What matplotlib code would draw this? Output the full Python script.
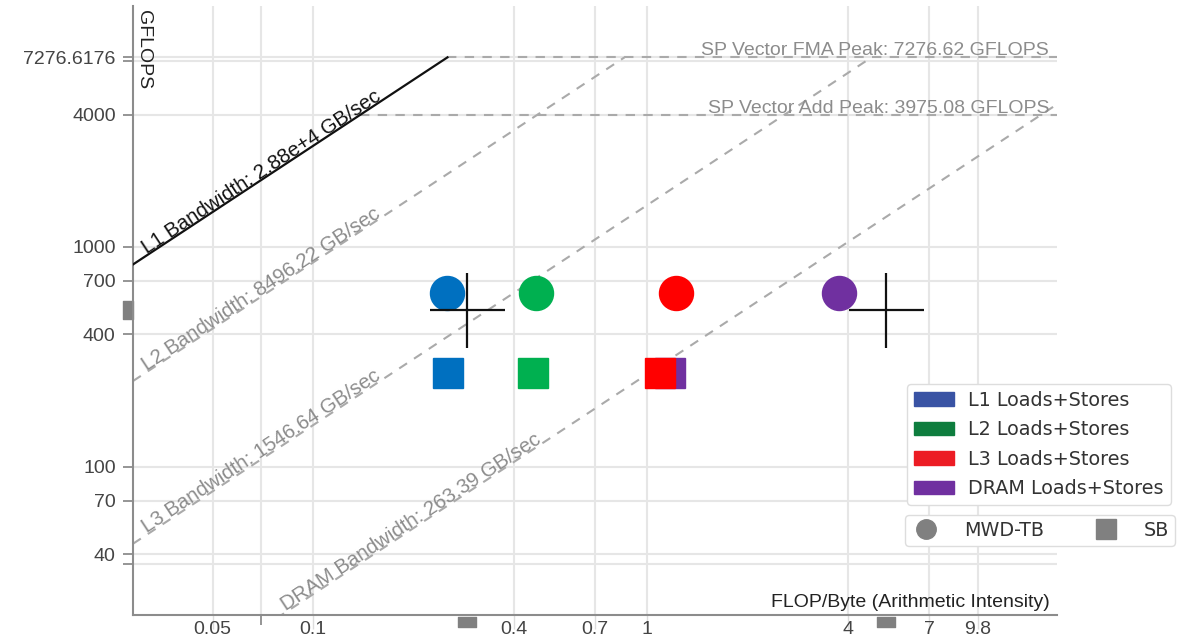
import matplotlib
matplotlib.use("Agg")
import numpy as np
import matplotlib.pyplot as plt
from matplotlib.path import Path
from matplotlib.patches import Patch
from matplotlib.lines import Line2D
from matplotlib.ticker import FixedLocator, FixedFormatter, NullFormatter
from matplotlib.transforms import offset_copy

plt.rcParams["font.family"] = ["Liberation Sans", "DejaVu Sans"]

# techos de computo (GFLOPS)
techos_nombres = ["SP Vector FMA Peak", "SP Vector Add Peak"]
techos_gflops = [7276.62, 3975.08]

# techos de memoria (GB/sec)
memorias_nombres = ["L1", "L2", "L3", "DRAM"]
memorias_gbs = [28800.0, 8496.22, 1546.64, 263.39]
memorias_texto = ["2.88e+4", "8496.22", "1546.64", "263.39"]

# puntos por nivel de memoria: L1, L2, L3, DRAM
niveles = ["L1 Loads+Stores", "L2 Loads+Stores", "L3 Loads+Stores", "DRAM Loads+Stores"]
colores_puntos = ["#0070C0", "#00B050", "#FF0000", "#7030A0"]
colores_leyenda = ["#3953A4", "#0E7D3E", "#EC1C24", "#7030A0"]
mwd_ai = [0.252, 0.465, 1.22, 3.76]
mwd_gflops = [618, 618, 618, 618]
sb_ai = [0.253, 0.456, 1.094, 1.176]
sb_gflops = [267, 267, 267, 267]

# puntos seleccionados (cruces) y sus marcas en los ejes
cruz_ai = [0.2885, 5.185]
cruz_gflops = [518, 518]

x_ticks = [0.05, 0.1, 0.4, 0.7, 1, 4, 7, 9.8]
x_labels = ["0.05", "0.1", "0.4", "0.7", "1", "4", "7", "9.8"]
x_menores = [0.07]
y_ticks = [40, 70, 100, 400, 700, 1000, 4000, 7276.6176]
y_labels = ["40", "70", "100", "400", "700", "1000", "4000", "7276.6176"]
y_menores = [36.2, 7000]

x_min, x_max = 0.0289, 16.9
y_min, y_max = 21.2, 12460

gris_texto = "#8c8c8c"

fig = plt.figure(figsize=(11.85, 6.37), dpi=100)
ax = fig.add_axes([133 / 1185, 22 / 637, 924 / 1185, 609 / 637])
ax.set_xscale("log")
ax.set_yscale("log")
ax.set_xlim(x_min, x_max)
ax.set_ylim(y_min, y_max)

# angulo de las diagonales en pantalla
p1 = ax.transData.transform((1, 100))
p2 = ax.transData.transform((10, 1000))
angulo = np.degrees(np.arctan2(p2[1] - p1[1], p2[0] - p1[0]))

pico = max(techos_gflops)
estilo_guion = (0, (4.5, 4))

# techos de memoria
for nombre, bw, txt in zip(memorias_nombres, memorias_gbs, memorias_texto):
    x_fin = min(pico / bw, x_max)
    xs = np.array([x_min, x_fin])
    if nombre == "L1":
        ax.plot(xs, bw * xs, color="#111111", lw=1.6, zorder=3)
        color = "#111111"
    else:
        ax.plot(xs, bw * xs, color="#aaaaaa", lw=1.5, ls=estilo_guion, zorder=2)
        color = gris_texto
    x_txt = max(x_min * 1.1, y_min / bw * 1.03)
    ax.annotate(nombre + " Bandwidth: " + txt + " GB/sec", (x_txt, bw * x_txt),
                xytext=(0, 1), textcoords="offset points", rotation=angulo,
                rotation_mode="anchor", ha="left", va="baseline",
                fontsize=14.7, color=color, zorder=4)

# techos de computo, desde el cruce con L1
for nombre, g in zip(techos_nombres, techos_gflops):
    x_ini = g / memorias_gbs[0]
    ax.plot([x_ini, x_max], [g, g], color="#aaaaaa", lw=1.5, ls=estilo_guion, zorder=2)
    ax.annotate(nombre + ": " + "%.2f" % g + " GFLOPS", (16.0, g), xytext=(0, 1.5),
                textcoords="offset points", ha="right", va="baseline",
                fontsize=14, color=gris_texto, zorder=4)

# puntos
orden_z = [6, 6, 7, 5]
for i in range(len(niveles)):
    ax.plot(mwd_ai[i], mwd_gflops[i], marker="o", markersize=24.5, color=colores_puntos[i],
            ls="none", zorder=orden_z[i])
    ax.plot(sb_ai[i], sb_gflops[i], marker="s", markersize=21, color=colores_puntos[i],
            ls="none", zorder=orden_z[i])

ax.plot(cruz_ai, cruz_gflops, marker="+", markersize=54, markeredgewidth=1.6,
        color="#111111", ls="none", zorder=8)

# marcas de los puntos seleccionados fuera de los ejes
rect_v = Path([(-0.28, -0.5), (0.28, -0.5), (0.28, 0.5), (-0.28, 0.5), (-0.28, -0.5)], closed=True)
rect_h = Path([(-0.5, -0.3), (0.5, -0.3), (0.5, 0.3), (-0.5, 0.3), (-0.5, -0.3)], closed=True)
trans_y = offset_copy(ax.get_yaxis_transform(), fig=fig, x=-5, y=0, units="dots")
trans_x = offset_copy(ax.get_xaxis_transform(), fig=fig, x=0, y=-6.5, units="dots")
ax.plot([0] * len(cruz_gflops[:1]), cruz_gflops[:1], marker=rect_v, markersize=13,
        color="#808080", ls="none", transform=trans_y, clip_on=False)
ax.plot(cruz_ai, [0] * len(cruz_ai), marker=rect_h, markersize=13,
        color="#808080", ls="none", transform=trans_x, clip_on=False)

# ejes
ax.xaxis.set_major_locator(FixedLocator(x_ticks))
ax.xaxis.set_major_formatter(FixedFormatter(x_labels))
ax.xaxis.set_minor_locator(FixedLocator(x_menores))
ax.xaxis.set_minor_formatter(NullFormatter())
ax.yaxis.set_major_locator(FixedLocator(y_ticks))
ax.yaxis.set_major_formatter(FixedFormatter(y_labels))
ax.yaxis.set_minor_locator(FixedLocator(y_menores))
ax.yaxis.set_minor_formatter(NullFormatter())

ax.grid(True, which="both", color="#e6e6e6", lw=1.5, zorder=0)
ax.set_axisbelow(True)
for lado in ["top", "right"]:
    ax.spines[lado].set_visible(False)
for lado in ["left", "bottom"]:
    ax.spines[lado].set_color("#8c8c8c")
    ax.spines[lado].set_linewidth(1.5)

ax.tick_params(axis="y", which="both", length=7.5, width=1.3, color="#8c8c8c",
               labelsize=14, labelcolor="#444444", pad=5)
ax.tick_params(axis="x", which="major", length=10, width=1.0, color="#dddddd",
               labelsize=14, labelcolor="#444444", pad=-6)
ax.tick_params(axis="x", which="minor", length=7.5, width=1.3, color="#8c8c8c")

ax.text(10 / 924, 0.993, "GFLOPS", rotation=270, ha="center", va="top",
        transform=ax.transAxes, fontsize=14, color="#222222")
ax.text(917 / 924, 0.006, "FLOP/Byte (Arithmetic Intensity)", ha="right", va="bottom",
        transform=ax.transAxes, fontsize=14, color="#222222")

# leyendas
parches = [Patch(facecolor=c, edgecolor=c, label=n) for c, n in zip(colores_leyenda, niveles)]
ley1 = fig.legend(handles=parches, loc="upper left", bbox_to_anchor=(907 / 1185, 1 - 384 / 637),
                  prop={"family": "DejaVu Sans", "size": 13.8}, labelcolor="#333333",
                  frameon=True, fancybox=True, edgecolor="#dddddd", framealpha=1,
                  handlelength=2.1, handleheight=0.72, labelspacing=0.55,
                  borderpad=0.35, handletextpad=0.75, borderaxespad=0)

formas = [Line2D([], [], marker="o", ls="none", color="#808080", markersize=14),
          Line2D([], [], marker="s", ls="none", color="#808080", markersize=14)]
ley2 = fig.legend(handles=formas, labels=["MWD-TB", "SB"], ncol=2, loc="upper left",
                  bbox_to_anchor=(905 / 1185, 1 - 515 / 637),
                  prop={"family": "DejaVu Sans", "size": 13.8}, labelcolor="#333333",
                  frameon=True, fancybox=True, edgecolor="#dddddd", framealpha=1,
                  handlelength=1.6, handletextpad=1.2, columnspacing=2.4,
                  borderpad=0.3, borderaxespad=0)

fig.savefig("out.png", dpi=100)
